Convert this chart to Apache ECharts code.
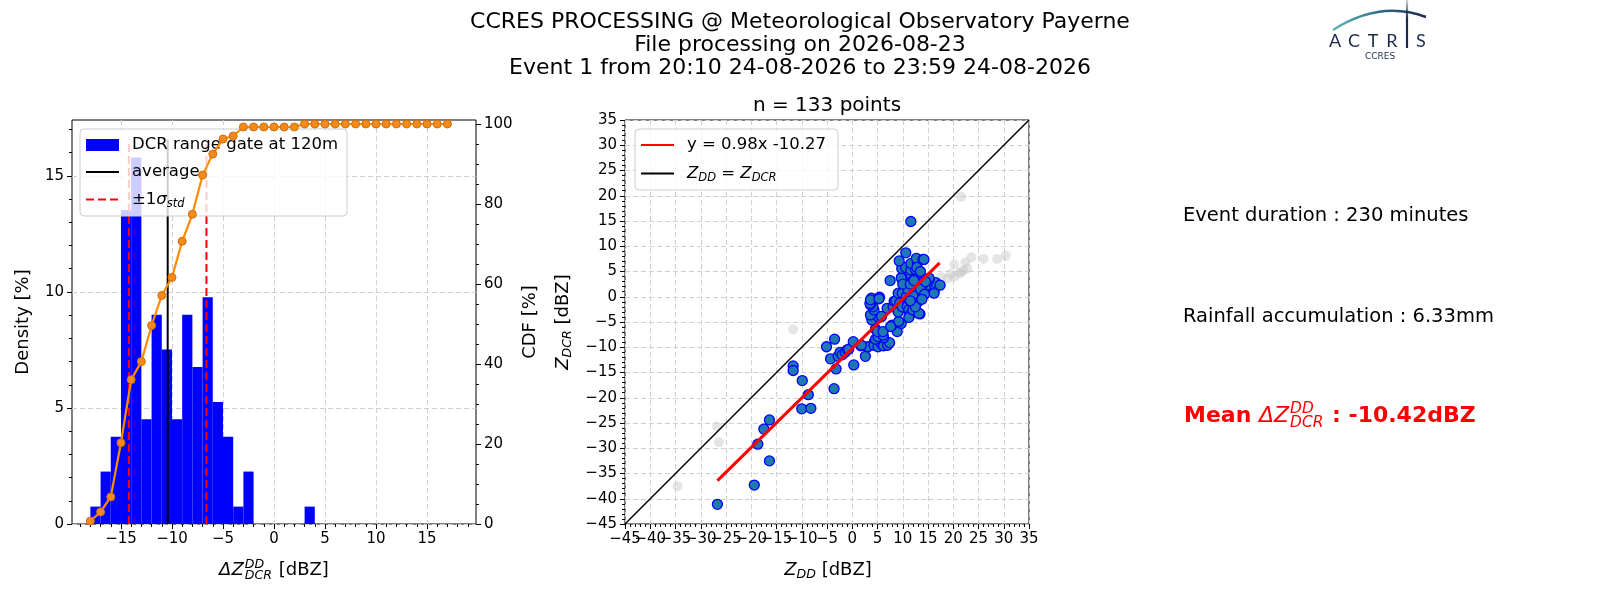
<!DOCTYPE html>
<html>
<head>
<meta charset="utf-8">
<title>CCRES DCR / DD comparison</title>
<script src="https://cdn.jsdelivr.net/npm/echarts@6.0.0/dist/echarts.min.js"></script>
<style>
    html, body { margin: 0; padding: 0; background: #fff; }
    #container { width: 1600px; height: 600px; }
</style>
</head>
<body>
<div id="container"></div>
<script type="text/javascript">
    var FONT = 'DejaVu Sans';

    // histogram of delta Z (1 dBZ bins), density in %
    var binLeft  = [-18, -17, -16, -15, -14, -13, -12, -11, -10, -9, -8, -7, -6, -5, -4, -3, 3];
    var binRight = [-17, -16, -15, -14, -13, -12, -11, -10, -9, -8, -7, -6, -5, -4, -3, -2, 4];
    var density  = [0.75, 2.26, 3.76, 13.53, 15.79, 4.51, 9.02, 7.52, 4.51, 9.02, 6.77, 9.77, 5.26, 3.76, 0.75, 2.26, 0.75];

    // cumulative distribution (right axis)
    var cdfEdge  = [-18, -17, -16, -15, -14, -13, -12, -11, -10, -9, -8, -7, -6, -5, -4, -3, -2, -1, 0, 1, 2,
                    3, 4, 5, 6, 7, 8, 9, 10, 11, 12, 13, 14, 15, 16, 17];
    var cdfValue = [0.75, 3.01, 6.77, 20.3, 36.09, 40.6, 49.62, 57.14, 61.65, 70.68, 77.44, 87.22, 92.48, 96.24, 96.99, 99.25, 99.25, 99.25, 99.25, 99.25, 99.25,
                    100, 100, 100, 100, 100, 100, 100, 100, 100, 100, 100, 100, 100, 100, 100];

    var meanDelta = -10.42;
    var sigmaLow = -14.22;
    var sigmaHigh = -6.62;
    var vlineTop = 16.58;

    // tick values
    var histTickX  = [-15, -10, -5, 0, 5, 10, 15];
    var histMinorX = [-19, -18, -17, -16, -14, -13, -12, -11, -9, -8, -7, -6, -4, -3, -2, -1, 1, 2, 3, 4, 6, 7, 8, 9, 11, 12, 13, 14, 16, 17, 18, 19];
    var densTicks  = [0, 5, 10, 15];
    var densMinor  = [1, 2, 3, 4, 6, 7, 8, 9, 11, 12, 13, 14, 16, 17];
    var cdfTicks   = [0, 20, 40, 60, 80, 100];
    var cdfMinor   = [5, 10, 15, 25, 30, 35, 45, 50, 55, 65, 70, 75, 85, 90, 95];
    var scatterFirstX = [-45];

    // scatter: Z_DD (x) vs Z_DCR (y), points kept
    var zddKept  = [-26.7, -19.4, -16.4, -18.7, -17.5, -16.4, -11.7, -11.7, -9.9, -8.7, -10.0, -8.2,
                    -5.1, -3.5, -4.3, -3.2, -3.6, -2.8, -2.4, -2.0, -1.4, -1.0, -0.7, 0.2, 0.3, 1.7, 2.6, 3.1, 1.8,
                    4.4, 4.3, 5.1, 5.7, 6.2, 7.0, 7.4, 4.6, 6.2, 5.1, 6.1, 4.6, 5.0, 6.1, 8.9, 7.9, 9.7, 9.2,
                    3.8, 4.0, 3.9, 5.3, 5.8, 3.6, 4.3, 4.1, 3.6, 3.5, 3.8, 3.6, 5.4, 5.3, 6.9, 8.1, 7.6,
                    8.3, 8.6, 9.1, 9.6, 9.1, 9.4, 9.9, 10.3, 9.9, 10.9, 10.7, 11.2, 11.4, 11.2, 11.7, 12.2, 12.0,
                    12.9, 13.0, 13.4, 13.2, 13.2, 13.5, 12.0, 14.9, 14.9, 13.9, 16.2, 16.2, 16.2, 16.5, 17.4,
                    15.2, 15.2, 13.2, 13.2, 11.9, 11.9, 11.2, 10.9, 9.8, 9.7, 7.5, 9.8, 10.6, 11.6, 12.5, 11.6,
                    12.9, 12.7, 14.0, 14.2, 10.6, 9.3, 11.6, 12.0, 12.5, 13.5, 11.0, 14.3, 10.0, 12.5, 11.5,
                    12.8, 13.5, 14.5, 11.5, 13.8, 12.2];
    var zdcrKept = [-41.1, -37.3, -32.5, -29.2, -26.2, -24.4, -13.7, -14.6, -16.6, -19.4, -22.2, -22.1,
                    -9.9, -8.4, -12.3, -14.3, -18.2, -11.8, -11.0, -11.5, -11.0, -10.5, -10.4, -8.9, -13.5, -9.7, -11.8, -9.9, -9.6,
                    -8.9, -9.6, -9.9, -9.2, -9.7, -9.6, -9.1, -8.4, -8.1, -7.9, -7.6, -6.4, -6.9, -6.9, -6.9, -5.6, -5.3, -4.9,
                    -4.0, -3.9, -4.6, -4.1, -3.9, -3.6, -2.6, -2.0, -1.6, -1.3, -0.3, -0.6, -0.1, -0.4, -2.3, -2.0, -5.9,
                    -0.9, -0.8, 0.7, -2.3, -3.0, -1.3, -2.0, 1.0, 0.7, -1.9, 0.0, -2.6, -3.6, -4.1, -1.0, 1.0, -2.6,
                    -1.0, -1.0, -3.4, -3.3, 0.0, 0.5, 0.3, 1.3, 2.3, 2.3, 1.0, 0.7, 2.5, 2.8, 2.3,
                    3.3, 3.7, 3.7, 4.6, 4.3, 4.2, 4.0, 4.6, 3.8, 3.7, 3.2, 5.6, 5.8, 5.3, 5.4, 6.6,
                    6.8, 7.6, 7.4, 7.4, 8.7, 7.1, 14.9, 2.0, 2.8, 1.5, 1.5, 0.5, 2.5, -2.0, -0.8,
                    5.8, 5.0, 3.0, 2.5, -0.5, 3.2];

    // scatter: points left out (light grey)
    var zddOut  = [21.6, -11.7, -26.8, -26.4, -34.6, 20.2, 22.4, 23.6, 26.0, 28.7, 30.4, 21.3, 22.8, 20.2, 18.9, 17.6, 21.5, 22.0, 19.5];
    var zdcrOut = [19.8, -6.5, -25.7, -28.8, -37.5, 6.4, 6.8, 7.8, 7.5, 7.5, 8.1, 4.6, 5.6, 3.9, 3.6, 3.9, 4.9, 5.2, 4.5];

    // regression line end points and 1:1 line
    var fitX = [-26.7, 17.3];
    var fitY = [-36.4, 6.7];
    var oneX = [-45, 35];
    var oneY = [-45, 35];

    var histName = 'DCR range gate at 120m';
    var avgName = 'average';
    var sigmaName = '±1σ';
    var fitName = 'y = 0.98x -10.27';
    var oneName = 'Z_DD = Z_DCR';

    var titleLines = [
        'CCRES PROCESSING @ Meteorological Observatory Payerne',
        'File processing on 2026-08-23',
        'Event 1 from 20:10 24-08-2026 to 23:59 24-08-2026'
    ];

    function minusFmt(v) {
        return v < 0 ? '\u2212' + Math.abs(v) : String(v);
    }

    function pairs(xs, ys) {
        var out = [];
        for (var i = 0; i < xs.length; i++) out.push([xs[i], ys[i]]);
        return out;
    }

    var histData = [];
    for (var i = 0; i < binLeft.length; i++) histData.push([binLeft[i], binRight[i], density[i]]);

    var measureCtx = document.createElement('canvas').getContext('2d');
    function textWidth(str, font) {
        measureCtx.font = font;
        return measureCtx.measureText(str).width;
    }

    // ΔZ with DD above and DCR below, stacked like mathtext
    function deltaLabel(x, y, align, size, color, weight, prefix, suffix) {
        var small = size * 0.7;
        var plain = weight + ' ' + size + 'px "' + FONT + '"';
        var ital = 'italic ' + size + 'px "' + FONT + '"';
        var smallIt = 'italic ' + small + 'px "' + FONT + '"';
        var wPre = prefix ? textWidth(prefix, plain) : 0;
        var wBase = textWidth('ΔZ', ital);
        var wScript = Math.max(textWidth('DD', smallIt), textWidth('DCR', smallIt));
        var wSuf = textWidth(suffix, plain);
        var x0 = align === 'center' ? x - (wPre + wBase + wScript + wSuf + 2) / 2 : x;
        function t(str, dx, dy, font) {
            return {type: 'text', x: x0 + dx, y: y + dy,
                style: {text: str, font: font, fill: color, align: 'left', verticalAlign: 'middle'}};
        }
        var kids = [
            t('ΔZ', wPre, 0, ital),
            t('DD', wPre + wBase + 1, -0.3 * size, smallIt),
            t('DCR', wPre + wBase + 1, 0.3 * size, smallIt),
            t(suffix, wPre + wBase + wScript + 2, 0, plain)
        ];
        if (prefix) kids.unshift(t(prefix, 0, 0, plain));
        return {type: 'group', children: kids};
    }

    var tickLabel = {fontFamily: FONT, fontSize: 15, color: '#000', margin: 8, formatter: minusFmt,
        showMinLabel: true, showMaxLabel: true};
    var gridDash = {color: '#d0d0d0', width: 1, type: [5, 3]};
    var blackTick = {color: '#000', width: 1};
    var noMark = {opacity: 0};

    var legendRich = {
        n: {fontFamily: FONT, fontSize: 16.5, color: '#000', lineHeight: 20},
        it: {fontFamily: FONT, fontSize: 16.5, fontStyle: 'italic', color: '#000', lineHeight: 20},
        sub: {fontFamily: FONT, fontSize: 11.5, fontStyle: 'italic', color: '#000', lineHeight: 20, padding: [9, 0, 0, 0]}
    };
    function legendFmt(name) {
        if (name === sigmaName) return '{n|±1}{it|σ}{sub|std}';
        if (name === oneName) return '{it|Z}{sub|DD}{n| = }{it|Z}{sub|DCR}';
        return '{n|' + name + '}';
    }
    var legendBase = {
        orient: 'vertical',
        itemWidth: 33,
        itemHeight: 12,
        backgroundColor: 'rgba(255,255,255,0.8)',
        borderColor: '#cccccc',
        borderWidth: 1,
        borderRadius: 4,
        selectedMode: false,
        z: 4,
        formatter: legendFmt,
        textStyle: {fontFamily: FONT, fontSize: 16.5, color: '#000', lineHeight: 20, padding: [0, 0, 0, 8], rich: legendRich}
    };

    var axisRich = {
        n: {fontFamily: FONT, fontSize: 18, color: '#000', lineHeight: 24},
        it: {fontFamily: FONT, fontSize: 18, fontStyle: 'italic', color: '#000', lineHeight: 24},
        sub: {fontFamily: FONT, fontSize: 12.6, fontStyle: 'italic', color: '#000', lineHeight: 24, padding: [10, 0, 0, 0]}
    };

    var logoNavy = '#1b2a4a';
    var logoLetters = ['A', 'C', 'T', 'R', 'S'];
    var logoLetterX = [1335, 1354, 1373, 1392, 1421];
    var logo = [
        {type: 'bezierCurve', shape: {x1: 1333, y1: 30, cpx1: 1380, cpy1: 0, x2: 1426, y2: 17},
            style: {fill: 'none', lineWidth: 2.5,
                stroke: new echarts.graphic.LinearGradient(0, 0, 1, 0, [
                    {offset: 0, color: '#5fbdb5'}, {offset: 0.5, color: '#2f6f86'}, {offset: 1, color: logoNavy}])}},
        {type: 'line', shape: {x1: 1407, y1: 0, x2: 1407, y2: 48},
            style: {lineWidth: 2.2,
                stroke: new echarts.graphic.LinearGradient(0, 0, 0, 1, [
                    {offset: 0, color: 'rgba(27,42,74,0.1)'}, {offset: 0.4, color: logoNavy}, {offset: 1, color: logoNavy}])}},
        {type: 'text', x: 1380, y: 57, style: {text: 'CCRES', font: '9px "' + FONT + '"', fill: logoNavy, align: 'center', verticalAlign: 'middle'}}
    ];
    for (var k = 0; k < logoLetters.length; k++) {
        logo.push({type: 'text', x: logoLetterX[k], y: 41,
            style: {text: logoLetters[k], font: '18px Lato', fill: logoNavy, align: 'center', verticalAlign: 'middle'}});
    }

    var dom = document.getElementById('container');
    var myChart = echarts.init(dom, null, {renderer: 'canvas'});

    var option = {
        animation: false,
        backgroundColor: '#fff',
        title: {
            text: titleLines.join('\n'),
            left: 'center',
            top: 6,
            textStyle: {fontFamily: FONT, fontSize: 22, fontWeight: 'normal', color: '#000', lineHeight: 23}
        },
        legend: [
            Object.assign({}, legendBase, {
                left: 80, top: 129, itemGap: 7, padding: [6, 9, 6, 5],
                data: [{name: histName, icon: 'rect'}, {name: avgName, itemStyle: noMark}, {name: sigmaName, itemStyle: noMark}]
            }),
            Object.assign({}, legendBase, {
                left: 635, top: 129, itemGap: 8, padding: [6, 12, 6, 5],
                data: [{name: fitName, itemStyle: noMark}, {name: oneName, itemStyle: noMark}]
            })
        ],
        grid: [
            {left: 72, top: 120, width: 404, height: 404, show: true, borderColor: '#000', borderWidth: 1},
            {left: 625, top: 120, width: 404, height: 404, show: true, borderColor: '#000', borderWidth: 1}
        ],
        xAxis: [
            {gridIndex: 0, type: 'value', position: 'bottom', min: -19.8, max: 19.8,
                axisLine: {show: false, onZero: false},
                axisTick: {show: true, customValues: histTickX, length: 5, lineStyle: blackTick},
                axisLabel: Object.assign({customValues: histTickX}, tickLabel),
                splitLine: {show: true, lineStyle: gridDash}},
            {gridIndex: 0, type: 'value', position: 'bottom', min: -19.8, max: 19.8,
                axisLine: {show: false, onZero: false},
                axisTick: {show: true, customValues: histMinorX, length: 3, lineStyle: blackTick},
                axisLabel: {show: false}, splitLine: {show: false}},
            {gridIndex: 1, type: 'value', position: 'bottom', min: -45, max: 35, interval: 5,
                axisLine: {show: false, onZero: false},
                axisTick: {show: true, length: 5, lineStyle: blackTick},
                minorTick: {show: true, splitNumber: 5, length: 3, lineStyle: blackTick},
                // first label comes from the axis below, so -40 is not dropped
                axisLabel: Object.assign({}, tickLabel, {showMinLabel: false}),
                splitLine: {show: true, lineStyle: gridDash}},
            {gridIndex: 1, type: 'value', position: 'bottom', min: -45, max: 35,
                axisLine: {show: false, onZero: false},
                axisTick: {show: false},
                axisLabel: Object.assign({customValues: scatterFirstX}, tickLabel),
                splitLine: {show: false}}
        ],
        yAxis: [
            {gridIndex: 0, type: 'value', position: 'left', min: 0, max: 17.41,
                axisLine: {show: false, onZero: false},
                axisTick: {show: true, customValues: densTicks, length: 5, lineStyle: blackTick},
                axisLabel: Object.assign({customValues: densTicks}, tickLabel),
                splitLine: {show: true, lineStyle: gridDash}},
            {gridIndex: 0, type: 'value', position: 'right', min: 0, max: 101,
                axisLine: {show: false, onZero: false},
                axisTick: {show: true, customValues: cdfTicks, length: 5, lineStyle: blackTick},
                axisLabel: Object.assign({customValues: cdfTicks}, tickLabel),
                splitLine: {show: false}},
            {gridIndex: 0, type: 'value', position: 'left', min: 0, max: 17.41,
                axisLine: {show: false, onZero: false},
                axisTick: {show: true, customValues: densMinor, length: 3, lineStyle: blackTick},
                axisLabel: {show: false}, splitLine: {show: false}},
            {gridIndex: 0, type: 'value', position: 'right', min: 0, max: 101,
                axisLine: {show: false, onZero: false},
                axisTick: {show: true, customValues: cdfMinor, length: 3, lineStyle: blackTick},
                axisLabel: {show: false}, splitLine: {show: false}},
            {gridIndex: 1, type: 'value', position: 'left', min: -45, max: 35, interval: 5,
                axisLine: {show: false, onZero: false},
                axisTick: {show: true, length: 5, lineStyle: blackTick},
                minorTick: {show: true, splitNumber: 5, length: 3, lineStyle: blackTick},
                axisLabel: tickLabel,
                splitLine: {show: true, lineStyle: gridDash}}
        ],
        series: [
            {
                name: histName,
                type: 'custom',
                xAxisIndex: 0, yAxisIndex: 0,
                itemStyle: {color: '#0000ff'},
                encode: {x: [0, 1], y: 2},
                data: histData,
                z: 2,
                renderItem: function (params, api) {
                    var p0 = api.coord([api.value(0), api.value(2)]);
                    var p1 = api.coord([api.value(1), 0]);
                    return {
                        type: 'rect',
                        shape: {x: p0[0], y: p0[1], width: p1[0] - p0[0], height: p1[1] - p0[1]},
                        style: {fill: '#0000ff'}
                    };
                }
            },
            {
                name: avgName, type: 'line', xAxisIndex: 0, yAxisIndex: 0, z: 3,
                symbol: 'none', silent: true, itemStyle: noMark,
                lineStyle: {color: '#000', width: 2},
                data: [[meanDelta, 0], [meanDelta, vlineTop]]
            },
            {
                name: sigmaName, type: 'line', xAxisIndex: 0, yAxisIndex: 0, z: 3,
                symbol: 'none', silent: true, itemStyle: noMark,
                lineStyle: {color: '#ff0000', width: 2, type: [8, 4]},
                data: [[sigmaLow, 0], [sigmaLow, vlineTop]]
            },
            {
                name: sigmaName, type: 'line', xAxisIndex: 0, yAxisIndex: 0, z: 3,
                symbol: 'none', silent: true, itemStyle: noMark,
                lineStyle: {color: '#ff0000', width: 2, type: [8, 4]},
                data: [[sigmaHigh, 0], [sigmaHigh, vlineTop]]
            },
            {
                name: 'CDF', type: 'line', xAxisIndex: 0, yAxisIndex: 1, z: 5,
                symbol: 'circle', symbolSize: 8, showAllSymbol: true,
                lineStyle: {color: '#ff8c00', width: 2.2},
                itemStyle: {color: '#f28a1c', borderColor: '#cf6f0a', borderWidth: 1},
                data: pairs(cdfEdge, cdfValue)
            },
            {
                name: 'excluded', type: 'scatter', xAxisIndex: 2, yAxisIndex: 4, z: 2,
                symbolSize: 10,
                itemStyle: {color: 'rgba(200,200,200,0.6)'},
                data: pairs(zddOut, zdcrOut)
            },
            {
                name: oneName, type: 'line', xAxisIndex: 2, yAxisIndex: 4, z: 3,
                symbol: 'none', silent: true, itemStyle: noMark,
                lineStyle: {color: '#000', width: 1.5},
                data: pairs(oneX, oneY)
            },
            {
                name: 'kept', type: 'scatter', xAxisIndex: 2, yAxisIndex: 4, z: 3,
                symbolSize: 10,
                itemStyle: {color: '#1f77b4', borderColor: '#0000ff', borderWidth: 1.3, opacity: 1},
                data: pairs(zddKept, zdcrKept)
            },
            {
                name: fitName, type: 'line', xAxisIndex: 2, yAxisIndex: 4, z: 4,
                symbol: 'none', silent: true, itemStyle: noMark,
                lineStyle: {color: '#ff0000', width: 3},
                data: pairs(fitX, fitY)
            }
        ],
        graphic: [
            {type: 'text', x: 827, y: 106, style: {text: 'n = 133 points', font: '20px "' + FONT + '"', fill: '#000', align: 'center', verticalAlign: 'middle'}},
            {type: 'text', x: 23, y: 322, rotation: Math.PI / 2, style: {text: 'Density [%]', font: '18px "' + FONT + '"', fill: '#000', align: 'center', verticalAlign: 'middle'}},
            {type: 'text', x: 530, y: 322, rotation: Math.PI / 2, style: {text: 'CDF [%]', font: '18px "' + FONT + '"', fill: '#000', align: 'center', verticalAlign: 'middle'}},
            {type: 'text', x: 563, y: 322, rotation: Math.PI / 2, style: {text: '{it|Z}{sub|DCR}{n| [dBZ]}', rich: axisRich, font: '18px "' + FONT + '"', fill: '#000', align: 'center', verticalAlign: 'middle'}},
            {type: 'text', x: 828, y: 570, style: {text: '{it|Z}{sub|DD}{n| [dBZ]}', rich: axisRich, font: '18px "' + FONT + '"', fill: '#000', align: 'center', verticalAlign: 'middle'}},
            deltaLabel(274, 570, 'center', 18, '#000', 'normal', '', ' [dBZ]'),
            {type: 'text', x: 1183, y: 216, style: {text: 'Event duration : 230 minutes', font: '19.5px "' + FONT + '"', fill: '#000', align: 'left', verticalAlign: 'middle'}},
            {type: 'text', x: 1183, y: 317, style: {text: 'Rainfall accumulation : 6.33mm', font: '19.5px "' + FONT + '"', fill: '#000', align: 'left', verticalAlign: 'middle'}},
            deltaLabel(1184, 416, 'left', 22, '#ff0000', 'bold', 'Mean ', ' : -10.42dBZ'),
            {type: 'group', children: logo}
        ]
    };

    myChart.setOption(option);
</script>
</body>
</html>
